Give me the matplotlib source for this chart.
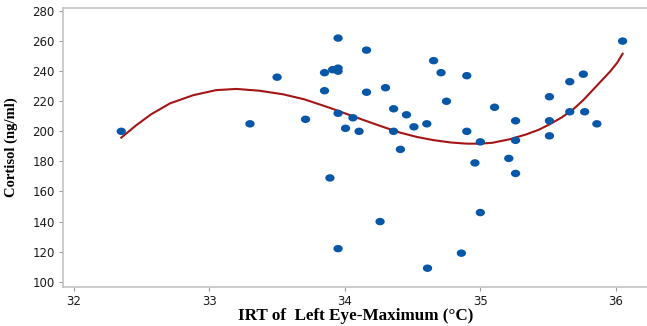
import numpy as np
import matplotlib
matplotlib.use("Agg")
import matplotlib.pyplot as plt
from matplotlib.path import Path

# scatter data
irt = [32.35, 33.30, 33.50, 33.71, 33.85, 33.85, 33.89, 33.95, 33.91, 33.95,
       33.95, 34.16, 34.16, 33.95, 34.06, 34.005, 34.105, 34.26, 33.95, 34.30,
       34.36, 34.36, 34.455, 34.41, 34.51, 34.605, 34.61, 34.655, 34.71, 34.75,
       34.90, 34.90, 34.86, 34.96, 35.00, 35.00, 35.105, 35.21, 35.26, 35.26,
       35.26, 35.51, 35.51, 35.51, 35.66, 35.66, 35.76, 35.77, 35.86, 36.05]
cortisol = [200, 205, 236, 208, 239, 227, 169, 262, 241, 242,
            240, 254, 226, 212, 209, 202, 200, 140, 122, 229,
            215, 200, 211, 188, 203, 205, 109, 247, 239, 220,
            237, 200, 119, 179, 193, 146, 216, 182, 207, 194,
            172, 223, 207, 197, 233, 213, 238, 213, 205, 260]

# fitted curve
fit_x = [32.35, 32.46, 32.57, 32.71, 32.88, 33.05, 33.20, 33.37, 33.545,
         33.70, 33.89, 34.03, 34.16, 34.29, 34.41, 34.53, 34.65, 34.78,
         34.90, 35.00, 35.09, 35.22, 35.34, 35.43, 35.51, 35.60, 35.685,
         35.76, 35.83, 35.90, 35.96, 36.01, 36.05]
fit_y = [195.8, 204.0, 211.3, 218.6, 224.0, 227.4, 228.2, 227.0, 224.6,
         221.3, 215.6, 211.0, 206.8, 202.7, 199.1, 196.3, 194.2, 192.6,
         191.8, 191.8, 192.4, 194.8, 198.0, 201.0, 204.6, 209.2, 214.6,
         220.8, 227.5, 234.2, 240.0, 245.6, 251.6]

xticks = [32, 33, 34, 35, 36]
yticks = list(range(100, 281, 20))

# slightly wide dot, like the stretched original
t = np.linspace(0, 2 * np.pi, 40)
dot = Path(np.column_stack([np.cos(t), 0.8 * np.sin(t)]), closed=True)

fig = plt.figure(figsize=(6.47, 3.26), dpi=100)
ax = fig.add_axes([63 / 647, 1 - 287 / 326, 1 - 63 / 647, (287 - 8) / 326])

ax.scatter(irt, cortisol, s=45, marker=dot, color="#0757a8", edgecolors="none", zorder=3)
ax.plot(fit_x, fit_y, color="#a31515", lw=1.5, zorder=2)

ax.set_xlim(31.92, 36.23)
ax.set_ylim(96.5, 282)
ax.set_xticks(xticks)
ax.set_yticks(yticks)

for s in ["left", "top", "bottom"]:
    ax.spines[s].set_color("#c4c4c4")
    ax.spines[s].set_linewidth(1.2)
ax.spines["right"].set_visible(False)
ax.tick_params(colors="#9a9a9a", length=3, width=0.8, labelcolor="#1a1a1a",
               labelsize=8.5, pad=3)
for lab in ax.get_xticklabels() + ax.get_yticklabels():
    lab.set_fontfamily("DejaVu Sans")

# x label placed by hand so it fits inside the short figure
fig.text(356 / 647, 1 - 316 / 326, "IRT of  Left Eye-Maximum (\u00b0C)",
         fontfamily="Liberation Serif", fontweight="bold", fontsize=12.3,
         ha="center", va="center")
ax.set_ylabel("Cortisol (ng/ml)", fontfamily="Liberation Serif",
              fontweight="bold", fontsize=10.5, labelpad=10)

fig.savefig("out.png", dpi=100)
